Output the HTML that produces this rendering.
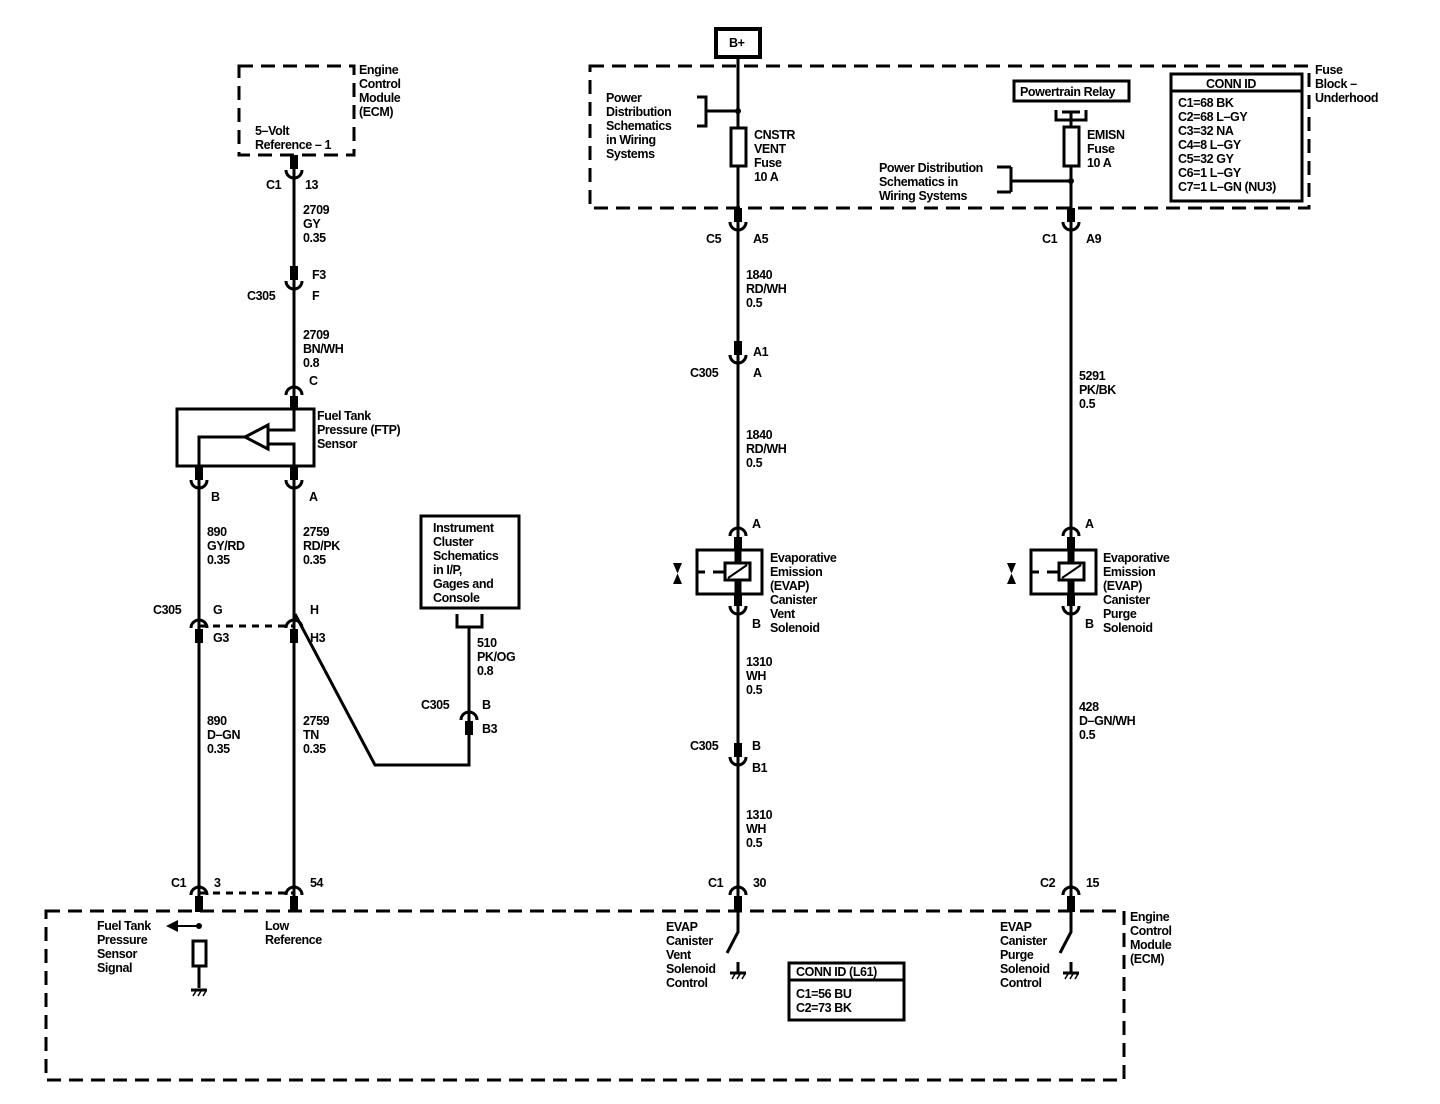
<!DOCTYPE html>
<html><head><meta charset="utf-8"><style>
html,body{margin:0;padding:0;background:#fff}
svg{display:block}
text{font-family:"Liberation Sans",Arial,sans-serif;font-size:12.5px;font-weight:bold;fill:#000;letter-spacing:-0.4px}
</style></head><body>
<svg width="1440" height="1104" viewBox="0 0 1440 1104" xmlns="http://www.w3.org/2000/svg">
<g fill="none" stroke="#000" stroke-width="3">
<rect x="239" y="66" width="115" height="89" stroke-dasharray="14,8"/>
<rect x="590" y="66" width="719" height="142" stroke-dasharray="14,8"/>
<rect x="46" y="911" width="1078" height="169" stroke-dasharray="14,8"/>
<line x1="294" y1="155" x2="294" y2="409"/>
<line x1="199" y1="466" x2="199" y2="911"/>
<line x1="294" y1="466" x2="294" y2="911"/>
<line x1="200" y1="626" x2="294" y2="626" stroke-dasharray="7,6"/>
<line x1="200" y1="893" x2="294" y2="893" stroke-dasharray="7,6"/>
<rect x="177" y="409" width="137" height="57"/>
<polyline points="294,409 294,430 268,430"/>
<polyline points="199,466 199,437 245,437"/>
<polyline points="268,444 294,444 294,466"/>
<polygon points="245,437 268,425 268,449"/>
<rect x="421" y="516" width="98" height="92"/>
<polyline points="457,614 457,627 482,627 482,614"/>
<polyline points="469,627 469,765 375,765 295,614"/>
<rect x="716" y="29" width="44" height="28" stroke-width="4"/>
<line x1="738" y1="57" x2="738" y2="911"/>
<polyline points="697,97 706,97 706,126 697,126"/>
<line x1="706" y1="111" x2="738" y2="111"/>
<rect x="731" y="128" width="15" height="38" fill="#fff"/>
<rect x="697" y="550" width="65" height="44"/>
<line x1="697" y1="572" x2="705" y2="572"/>
<line x1="713" y1="572" x2="725" y2="572"/>
<line x1="738" y1="550" x2="738" y2="594" stroke-width="7"/>
<rect x="725" y="563" width="25" height="17" fill="#fff"/>
<line x1="728" y1="578" x2="747" y2="565" stroke-width="2"/>
<polyline points="738,911 738,932 727,953"/>
<rect x="1014" y="81" width="115" height="20"/>
<polyline points="1056,110 1056,120 1086,120 1086,110"/>
<line x1="1062" y1="112" x2="1080" y2="112"/>
<line x1="1071" y1="112" x2="1071" y2="911"/>
<rect x="1064" y="127" width="15" height="39" fill="#fff"/>
<polyline points="1011,167 1011,192"/>
<polyline points="997,167 1011,167"/>
<polyline points="997,192 1011,192"/>
<line x1="1011" y1="181" x2="1071" y2="181"/>
<rect x="1031" y="550" width="65" height="44"/>
<line x1="1031" y1="572" x2="1039" y2="572"/>
<line x1="1047" y1="572" x2="1059" y2="572"/>
<line x1="1071" y1="550" x2="1071" y2="594" stroke-width="7"/>
<rect x="1059" y="563" width="25" height="17" fill="#fff"/>
<line x1="1062" y1="578" x2="1081" y2="565" stroke-width="2"/>
<polyline points="1071,911 1071,932 1060,953"/>
<rect x="1171" y="74" width="131" height="127"/>
<line x1="1171" y1="91" x2="1302" y2="91"/>
<rect x="789" y="963" width="115" height="57"/>
<line x1="789" y1="980" x2="904" y2="980"/>
<line x1="199" y1="926" x2="178" y2="926" stroke-width="2"/>
<rect x="193" y="941" width="13" height="25" fill="#fff"/>
<g stroke-width="3">
<path d="M286,170 A8,8 0 0 0 302,170"/>
<path d="M286,281 A8,8 0 0 0 302,281"/>
<path d="M191,480 A8,8 0 0 0 207,480"/>
<path d="M286,480 A8,8 0 0 0 302,480"/>
<path d="M730,222 A8,8 0 0 0 746,222"/>
<path d="M730,355 A8,8 0 0 0 746,355"/>
<path d="M730,606 A8,8 0 0 0 746,606"/>
<path d="M730,757 A8,8 0 0 0 746,757"/>
<path d="M1063,222 A8,8 0 0 0 1079,222"/>
<path d="M1063,606 A8,8 0 0 0 1079,606"/>
<path d="M286,395 A8,8 0 0 1 302,395"/>
<path d="M191,628 A8,8 0 0 1 207,628"/>
<path d="M286,628 A8,8 0 0 1 302,628"/>
<path d="M461,720 A8,8 0 0 1 477,720"/>
<path d="M191,895 A8,8 0 0 1 207,895"/>
<path d="M286,895 A8,8 0 0 1 302,895"/>
<path d="M730,536 A8,8 0 0 1 746,536"/>
<path d="M730,895 A8,8 0 0 1 746,895"/>
<path d="M1063,536 A8,8 0 0 1 1079,536"/>
<path d="M1063,895 A8,8 0 0 1 1079,895"/>
</g>
</g>
<g fill="#000">
<rect x="290" y="155" width="8" height="14"/>
<rect x="290" y="266" width="8" height="14"/>
<rect x="290" y="396" width="8" height="14"/>
<rect x="195" y="466" width="8" height="14"/>
<rect x="290" y="466" width="8" height="14"/>
<rect x="195" y="629" width="8" height="14"/>
<rect x="290" y="629" width="8" height="14"/>
<rect x="465" y="721" width="8" height="14"/>
<rect x="195" y="896" width="8" height="16"/>
<rect x="290" y="896" width="8" height="16"/>
<rect x="734" y="208" width="8" height="14"/>
<rect x="734" y="341" width="8" height="14"/>
<rect x="734" y="537" width="8" height="14"/>
<rect x="734" y="594" width="8" height="12"/>
<rect x="734" y="743" width="8" height="14"/>
<rect x="734" y="896" width="8" height="16"/>
<rect x="1067" y="208" width="8" height="14"/>
<rect x="1067" y="537" width="8" height="14"/>
<rect x="1067" y="594" width="8" height="12"/>
<rect x="1067" y="896" width="8" height="16"/>
<circle cx="738" cy="111" r="3"/>
<circle cx="1071" cy="181" r="3"/>
<circle cx="199" cy="926" r="3"/>
<polygon points="166,926 178,920 178,932"/>
<polygon points="673,563 682,563 673,584 682,584"/>
<polygon points="1007,563 1016,563 1007,584 1016,584"/>
</g>
<g stroke="#000" stroke-width="3" fill="none">
<line x1="199" y1="966" x2="199" y2="988"/>
<line x1="191" y1="990" x2="207" y2="990"/>
<line x1="738" y1="962" x2="738" y2="972"/>
<line x1="730" y1="973" x2="746" y2="973"/>
<line x1="1071" y1="962" x2="1071" y2="972"/>
<line x1="1063" y1="973" x2="1079" y2="973"/>
</g>
<g stroke="#000" stroke-width="1.5">
<line x1="193" y1="996" x2="196" y2="991"/><line x1="198" y1="996" x2="201" y2="991"/><line x1="203" y1="996" x2="206" y2="991"/>
<line x1="732" y1="979" x2="735" y2="974"/><line x1="737" y1="979" x2="740" y2="974"/><line x1="742" y1="979" x2="745" y2="974"/>
<line x1="1065" y1="979" x2="1068" y2="974"/><line x1="1070" y1="979" x2="1073" y2="974"/><line x1="1075" y1="979" x2="1078" y2="974"/>
</g>
<g>
<text x="359" y="74">Engine</text><text x="359" y="88">Control</text><text x="359" y="102">Module</text><text x="359" y="116">(ECM)</text>
<text x="255" y="135">5–Volt</text><text x="255" y="149">Reference – 1</text>
<text x="266" y="189">C1</text><text x="305" y="189">13</text>
<text x="303" y="214">2709</text><text x="303" y="228">GY</text><text x="303" y="242">0.35</text>
<text x="312" y="279">F3</text><text x="247" y="300">C305</text><text x="312" y="300">F</text>
<text x="303" y="339">2709</text><text x="303" y="353">BN/WH</text><text x="303" y="367">0.8</text>
<text x="309" y="385">C</text>
<text x="317" y="420">Fuel Tank</text><text x="317" y="434">Pressure (FTP)</text><text x="317" y="448">Sensor</text>
<text x="211" y="501">B</text><text x="309" y="501">A</text>
<text x="207" y="536">890</text><text x="207" y="550">GY/RD</text><text x="207" y="564">0.35</text>
<text x="303" y="536">2759</text><text x="303" y="550">RD/PK</text><text x="303" y="564">0.35</text>
<text x="433" y="532">Instrument</text><text x="433" y="546">Cluster</text><text x="433" y="560">Schematics</text><text x="433" y="574">in I/P,</text><text x="433" y="588">Gages and</text><text x="433" y="602">Console</text>
<text x="153" y="614">C305</text><text x="213" y="614">G</text><text x="310" y="614">H</text>
<text x="213" y="642">G3</text><text x="310" y="642">H3</text>
<text x="477" y="647">510</text><text x="477" y="661">PK/OG</text><text x="477" y="675">0.8</text>
<text x="421" y="709">C305</text><text x="482" y="709">B</text><text x="482" y="733">B3</text>
<text x="207" y="725">890</text><text x="207" y="739">D–GN</text><text x="207" y="753">0.35</text>
<text x="303" y="725">2759</text><text x="303" y="739">TN</text><text x="303" y="753">0.35</text>
<text x="171" y="887">C1</text><text x="214" y="887">3</text><text x="310" y="887">54</text>
<text x="97" y="930">Fuel Tank</text><text x="97" y="944">Pressure</text><text x="97" y="958">Sensor</text><text x="97" y="972">Signal</text>
<text x="265" y="930">Low</text><text x="265" y="944">Reference</text>
<text x="729" y="47" font-size="12">B+</text>
<text x="606" y="102">Power</text><text x="606" y="116">Distribution</text><text x="606" y="130">Schematics</text><text x="606" y="144">in Wiring</text><text x="606" y="158">Systems</text>
<text x="754" y="139">CNSTR</text><text x="754" y="153">VENT</text><text x="754" y="167">Fuse</text><text x="754" y="181">10 A</text>
<text x="706" y="243">C5</text><text x="753" y="243">A5</text>
<text x="746" y="279">1840</text><text x="746" y="293">RD/WH</text><text x="746" y="307">0.5</text>
<text x="753" y="356">A1</text><text x="690" y="377">C305</text><text x="753" y="377">A</text>
<text x="746" y="439">1840</text><text x="746" y="453">RD/WH</text><text x="746" y="467">0.5</text>
<text x="752" y="528">A</text>
<text x="770" y="562">Evaporative</text><text x="770" y="576">Emission</text><text x="770" y="590">(EVAP)</text><text x="770" y="604">Canister</text><text x="770" y="618">Vent</text><text x="770" y="632">Solenoid</text>
<text x="752" y="628">B</text>
<text x="746" y="666">1310</text><text x="746" y="680">WH</text><text x="746" y="694">0.5</text>
<text x="690" y="750">C305</text><text x="752" y="750">B</text><text x="752" y="772">B1</text>
<text x="746" y="819">1310</text><text x="746" y="833">WH</text><text x="746" y="847">0.5</text>
<text x="708" y="887">C1</text><text x="753" y="887">30</text>
<text x="666" y="931">EVAP</text><text x="666" y="945">Canister</text><text x="666" y="959">Vent</text><text x="666" y="973">Solenoid</text><text x="666" y="987">Control</text>
<text x="796" y="976">CONN ID (L61)</text><text x="796" y="998">C1=56 BU</text><text x="796" y="1012">C2=73 BK</text>
<text x="1020" y="96" font-size="12">Powertrain Relay</text>
<text x="1087" y="139">EMISN</text><text x="1087" y="153">Fuse</text><text x="1087" y="167">10 A</text>
<text x="879" y="172">Power Distribution</text><text x="879" y="186">Schematics in</text><text x="879" y="200">Wiring Systems</text>
<text x="1206" y="88">CONN ID</text>
<text x="1178" y="107">C1=68 BK</text><text x="1178" y="121">C2=68 L–GY</text><text x="1178" y="135">C3=32 NA</text><text x="1178" y="149">C4=8 L–GY</text><text x="1178" y="163">C5=32 GY</text><text x="1178" y="177">C6=1 L–GY</text><text x="1178" y="191">C7=1 L–GN (NU3)</text>
<text x="1315" y="74">Fuse</text><text x="1315" y="88">Block –</text><text x="1315" y="102">Underhood</text>
<text x="1042" y="243">C1</text><text x="1086" y="243">A9</text>
<text x="1079" y="380">5291</text><text x="1079" y="394">PK/BK</text><text x="1079" y="408">0.5</text>
<text x="1085" y="528">A</text>
<text x="1103" y="562">Evaporative</text><text x="1103" y="576">Emission</text><text x="1103" y="590">(EVAP)</text><text x="1103" y="604">Canister</text><text x="1103" y="618">Purge</text><text x="1103" y="632">Solenoid</text>
<text x="1085" y="628">B</text>
<text x="1079" y="711">428</text><text x="1079" y="725">D–GN/WH</text><text x="1079" y="739">0.5</text>
<text x="1040" y="887">C2</text><text x="1086" y="887">15</text>
<text x="1000" y="931">EVAP</text><text x="1000" y="945">Canister</text><text x="1000" y="959">Purge</text><text x="1000" y="973">Solenoid</text><text x="1000" y="987">Control</text>
<text x="1130" y="921">Engine</text><text x="1130" y="935">Control</text><text x="1130" y="949">Module</text><text x="1130" y="963">(ECM)</text>
</g>
</svg>
</body></html>
